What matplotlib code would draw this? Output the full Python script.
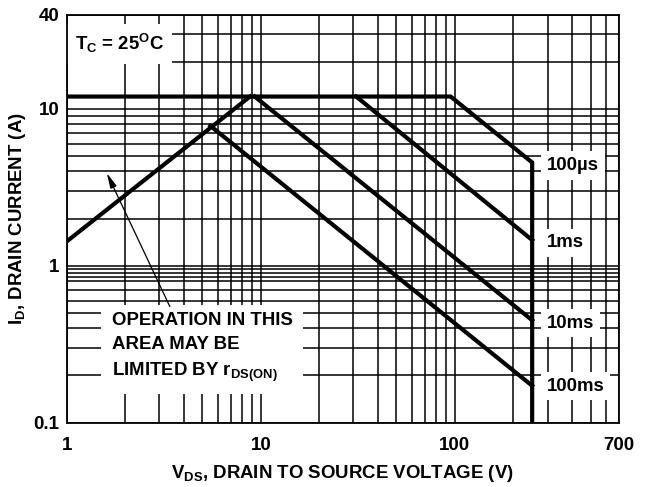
import matplotlib
matplotlib.use('Agg')
import matplotlib.pyplot as plt
from matplotlib.ticker import FixedLocator, NullFormatter

plt.rcParams['font.family'] = 'Liberation Sans'
plt.rcParams['font.weight'] = 'bold'
plt.rcParams['mathtext.fontset'] = 'custom'
plt.rcParams['mathtext.rm'] = 'Liberation Sans:bold'
plt.rcParams['mathtext.default'] = 'rm'

# safe operating area
v_rds = [1, 8.8]
i_rds = [1.43, 12]
v_limit = [1, 95, 250, 250]
i_limit = [12, 12, 4.56, 0.1]
v_1ms = [31, 250]
i_1ms = [12, 1.46]
v_10ms = [9.3, 250]
i_10ms = [12, 0.45]
v_100ms = [5.5, 250]
i_100ms = [7.8, 0.172]

pulse_labels = ['100\u00b5s', '1ms', '10ms', '100ms']
pulse_label_i = [4.36, 1.40, 0.432, 0.171]

x_major = [1, 10, 100, 700]
x_minor = [2, 3, 4, 5, 6, 7, 8, 9, 20, 30, 40, 50, 60, 70, 80, 90,
           200, 300, 400, 500, 600]
y_major = [0.1, 1, 10, 40]
y_minor = [0.2, 0.3, 0.4, 0.5, 0.6, 0.7, 0.8, 0.85, 0.9, 0.95,
           2, 3, 4, 5, 6, 7, 8, 9, 20, 30]

fs = 13.4

fig = plt.figure(figsize=(6.48, 4.87), dpi=100)
ax = fig.add_axes([0.1029, 0.132, 0.8523, 0.8382])
ax.set_xscale('log')
ax.set_yscale('log')
ax.set_xlim(1, 700)
ax.set_ylim(0.1, 40)

ax.xaxis.set_major_locator(FixedLocator(x_major))
ax.xaxis.set_minor_locator(FixedLocator(x_minor))
ax.yaxis.set_major_locator(FixedLocator(y_major))
ax.yaxis.set_minor_locator(FixedLocator(y_minor))
ax.set_xticklabels([str(v) for v in x_major])
ax.set_yticklabels([str(v) for v in y_major])
ax.xaxis.set_minor_formatter(NullFormatter())
ax.yaxis.set_minor_formatter(NullFormatter())
ax.tick_params(which='both', length=0, labelsize=13.5)
ax.tick_params(axis='x', pad=10)
ax.tick_params(axis='y', pad=5)
ax.grid(True, which='both', color='black', lw=1.1)
ax.set_axisbelow(True)
for s in ax.spines.values():
    s.set_linewidth(1.3)

lw = 3
ax.plot(v_limit, i_limit, color='black', lw=lw, solid_joinstyle='miter', zorder=3)
ax.plot(v_rds, i_rds, color='black', lw=lw, zorder=3)
ax.plot(v_1ms, i_1ms, color='black', lw=lw, zorder=3)
ax.plot(v_10ms, i_10ms, color='black', lw=lw, zorder=3)
ax.plot(v_100ms, i_100ms, color='black', lw=lw, zorder=3)

box = dict(boxstyle='square,pad=0.3', facecolor='white', edgecolor='none')
for lab, yi in zip(pulse_labels, pulse_label_i):
    ax.text(298, yi, lab, fontsize=fs, fontweight='bold', ha='left',
            va='center', bbox=box, zorder=2)

ax.text(1.1, 26, r'T$_{C}$ = 25$^{O}$C', fontsize=fs, fontweight='bold',
        ha='left', va='center',
        bbox=dict(boxstyle='square,pad=0.45', facecolor='white', edgecolor='none'),
        zorder=2)

ax.text(1.706, 0.3, 'OPERATION IN THIS\nAREA MAY BE\nLIMITED BY r$_{DS(ON)}$',
        fontsize=fs, fontweight='bold', ha='left', va='center',
        linespacing=1.55,
        bbox=dict(boxstyle='square,pad=0.55', facecolor='white', edgecolor='none'),
        zorder=2)

ax.annotate('', xy=(1.61, 3.9), xytext=(3.4, 0.55),
            arrowprops=dict(arrowstyle='-|>,head_length=0.9,head_width=0.2',
                            color='black', lw=0.9, shrinkA=0, shrinkB=0),
            zorder=4)

ax.set_xlabel(r'V$_{DS}$, DRAIN TO SOURCE VOLTAGE (V)', fontsize=fs,
              fontweight='bold', labelpad=7)
ax.set_ylabel(r'I$_{D}$, DRAIN CURRENT (A)', fontsize=fs,
              fontweight='bold', labelpad=4)

fig.savefig('out.png', dpi=100)
